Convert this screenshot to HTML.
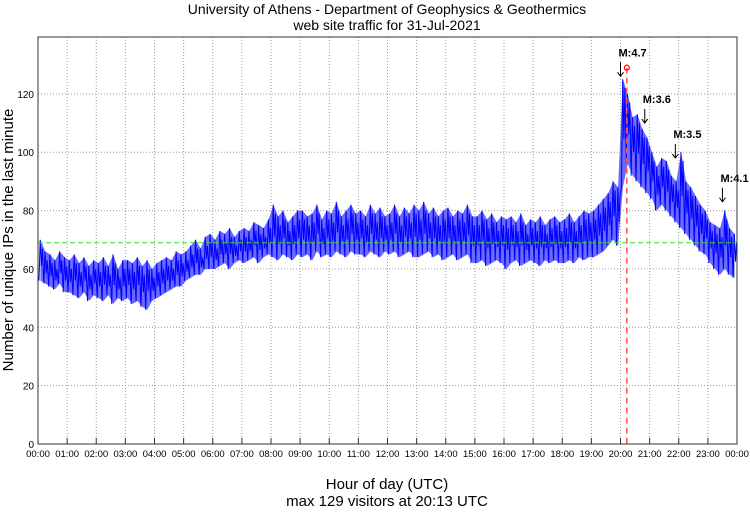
<!DOCTYPE html>
<html><head><meta charset="utf-8"><style>
body{margin:0;background:#fff;}
svg text{font-family:"Liberation Sans",sans-serif;}
</style></head><body>
<svg id="chart" width="750" height="509" xmlns="http://www.w3.org/2000/svg">
<text x="387" y="14" font-size="14" text-anchor="middle">University of Athens - Department of Geophysics &amp; Geothermics</text>
<text x="387" y="30" font-size="14" text-anchor="middle">web site traffic for 31-Jul-2021</text>
<text x="387" y="489" font-size="15" text-anchor="middle">Hour of day (UTC)</text>
<text x="387" y="506" font-size="15" text-anchor="middle">max 129 visitors at 20:13 UTC</text>
<text transform="translate(13,240) rotate(-90)" font-size="15" text-anchor="middle">Number of unique IPs in the last minute</text>
<g id="grid"></g><g id="series"></g><g id="ann"></g>
<rect x="38" y="37" width="699" height="407" fill="none" stroke="#333" stroke-width="1"/>
</svg>
<script>
const hourLabels=["00:00","01:00","02:00","03:00","04:00","05:00","06:00","07:00","08:00","09:00","10:00","11:00","12:00","13:00","14:00","15:00","16:00","17:00","18:00","19:00","20:00","21:00","22:00","23:00","00:00"];
const yTicks=[0,20,40,60,80,100,120];
const hiVals=[70,66,65,63,66,64, 63,65,62,64,61,63, 62,64,61,65,60,63, 63,62,64,61,63,60, 62,63,64,63,66,65, 66,68,70,67,71,72, 70,73,72,74,71,73, 74,73,76,75,74,77, 82,78,80,76,78,80, 80,78,79,82,77,80, 79,83,78,80,82,79, 80,78,82,79,81,78, 79,82,78,81,79,82, 80,83,79,81,78,80, 81,78,80,79,82,78, 78,80,77,79,76,78, 77,78,76,79,75,77, 76,78,75,77,78,76, 77,79,76,78,80,79, 80,82,84,86,90,88, 125,120,112,113,108,105, 100,95,98,97,92,90, 100,90,88,85,82,80, 76,75,74,80,74,72];
const loVals=[56,55,54,53,55,52, 52,51,50,52,49,51, 50,49,51,48,50,49, 50,48,49,47,46,49, 50,51,52,53,54,54, 56,57,58,58,60,60, 60,61,62,60,62,63, 62,63,64,62,64,65, 64,63,65,64,63,65, 64,65,63,66,64,65, 64,66,65,64,66,65, 65,64,66,65,64,66, 65,66,64,65,66,64, 64,65,66,64,65,63, 64,65,63,64,65,62, 62,63,61,62,63,62, 60,62,63,61,62,63, 62,61,63,62,63,62, 62,63,62,64,63,64, 64,65,66,68,70,68, 88,96,92,90,88,86, 84,80,82,80,78,76, 74,72,70,68,66,65, 62,60,58,60,58,57];
const avgLevel=69;
const maxMinute=20*60+13, maxValue=129;
const quakes=[{label:"M:4.7",min:1200,val:125},{label:"M:3.6",min:1250,val:109},{label:"M:3.5",min:1313,val:97},{label:"M:4.1",min:1410,val:82}];
const NS="http://www.w3.org/2000/svg";
const X0=38,X1=737,Y0=444,Y1=37,YMAX=139.5;
const xs=m=>X0+(X1-X0)*m/1440;
const ys=v=>Y0-(Y0-Y1)*v/YMAX;
function mk(t,a,p){const e=document.createElementNS(NS,t);for(const k in a)e.setAttribute(k,a[k]);p.appendChild(e);return e;}
const grid=document.getElementById('grid'),ser=document.getElementById('series'),ann=document.getElementById('ann');
hourLabels.forEach((l,i)=>{const x=xs(i*60);
 if(i>0&&i<24){const g=mk('line',{x1:x,x2:x,y1:Y1,y2:Y0,stroke:'#999','stroke-dasharray':'1,2'},grid);
 }
 const tk=mk('line',{x1:x,x2:x,y1:Y0,y2:Y0-6,stroke:'#333'},grid);
 
 const t=mk('text',{x:x,y:457,'font-size':9.5,'text-anchor':'middle'},grid);t.textContent=l;
 });
yTicks.forEach(v=>{const y=ys(v);
 if(v>0){const g=mk('line',{x1:X0,x2:X1,y1:y,y2:y,stroke:'#999','stroke-dasharray':'1,2'},grid);
 }
 const t=mk('text',{x:34,y:y+4,'font-size':10,'text-anchor':'end'},grid);t.textContent=v;
 });
// filled band between lows and highs
let up=[],dn=[];
hiVals.forEach((h,i)=>{up.push(xs(i*10+5)+','+ys(h));});
for(let i=loVals.length-1;i>=0;i--)dn.push(xs(i*10+5)+','+ys(loVals[i]));
const band=mk('polygon',{points:up.concat(dn).join(' '),fill:'#6a6aff',stroke:'none'},ser);

let pts=[];hiVals.forEach((h,i)=>{pts.push(xs(i*10+2)+','+ys(loVals[i]));pts.push(xs(i*10+4.5)+','+ys(h));pts.push(xs(i*10+7)+','+ys((loVals[i]+h)/2-2));pts.push(xs(i*10+9)+','+ys(h-3));});
const line=mk('polyline',{points:pts.join(' '),fill:'none',stroke:'#0000ff','stroke-width':1},ser);

const avg=mk('line',{x1:X0,x2:X1,y1:ys(avgLevel),y2:ys(avgLevel),stroke:'#33dd33','stroke-dasharray':'5,3'},ser);

const mx=mk('line',{x1:xs(maxMinute),x2:xs(maxMinute),y1:ys(maxValue),y2:Y0,stroke:'#ff5555','stroke-width':1.5,'stroke-dasharray':'6,4'},ser);

const dot=mk('circle',{cx:xs(maxMinute),cy:ys(maxValue),r:2.5,fill:'none',stroke:'red','stroke-width':1.2},ser);

quakes.forEach(q=>{const x=xs(q.min),y=ys(q.val)-3;
 const a=mk('path',{d:`M${x},${y-14}L${x},${y}M${x-3},${y-4}L${x},${y}L${x+3},${y-4}`,stroke:'#000',fill:'none'},ann);
 
 const t=mk('text',{x:x-2,y:y-20,'font-size':11,'font-weight':'bold'},ann);t.textContent=q.label;
 });
</script>
</body></html>
